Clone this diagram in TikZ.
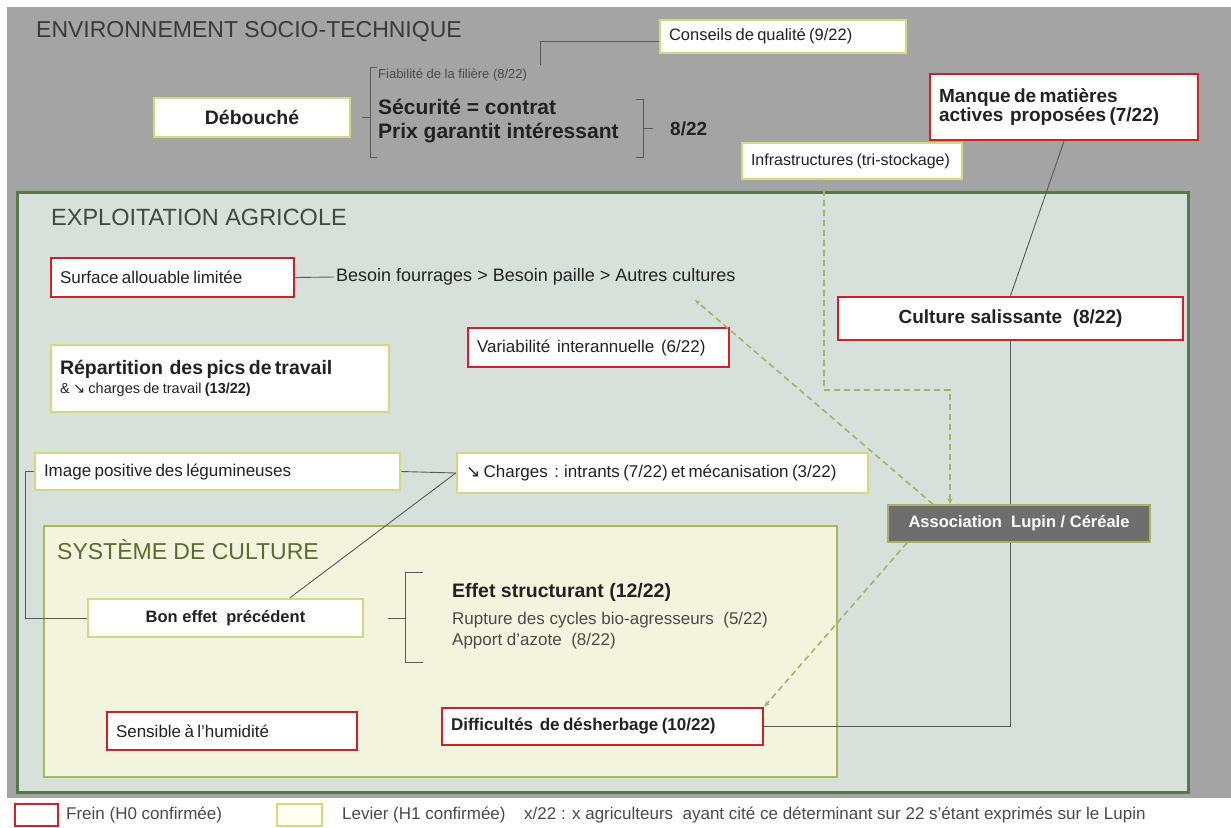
\documentclass[tikz,border=0pt]{standalone}
\usepackage{fontspec}
\setmainfont{Liberation Sans}
\newfontfamily\arrowfont{DejaVu Sans}
\usetikzlibrary{arrows.meta,calc}
\definecolor{bggray}{HTML}{A4A4A4}
\definecolor{expfill}{HTML}{D8E0DB}
\definecolor{expdraw}{HTML}{56784A}
\definecolor{sysfill}{HTML}{F3F4DE}
\definecolor{sysdraw}{HTML}{A9B85C}
\definecolor{levdraw}{HTML}{CFDB7E}
\definecolor{freinred}{HTML}{D0202C}
\definecolor{assocfill}{HTML}{6E6E6E}
\definecolor{dashgr}{HTML}{A3B468}
\definecolor{txt}{HTML}{222222}
\definecolor{txtl}{HTML}{4A4A4A}
\definecolor{titlegray}{HTML}{3A3A3A}
\definecolor{titleexp}{HTML}{3B4A42}
\definecolor{titlesys}{HTML}{5C6A2C}
\newcommand\fsz[2]{\fontsize{#1}{#2}\selectfont}
\newcommand\dnarrow{{\arrowfont\char"2198}}
\tikzset{
  boxbase/.style={line width=2.5pt, fill=white, inner xsep=9pt, inner ysep=0pt, text=txt, align=left},
  frein/.style={boxbase, draw=freinred},
  levier/.style={boxbase, draw=levdraw},
  conn/.style={draw=black!65, line width=0.9pt},
  dconn/.style={draw=dashgr, line width=1.6pt, dash pattern=on 6pt off 4pt},
  dtip/.style={-{Stealth[length=6pt,width=5pt]}},
  plaintext/.style={inner sep=2pt, text=txt, anchor=west},
  title/.style={inner sep=0pt, anchor=west}
}
\begin{document}
\begin{tikzpicture}[x=1pt,y=-1pt]
\useasboundingbox (0,0) rectangle (1231,827);
\fill[white] (0,0) rectangle (1231,827);
% zones
\fill[bggray] (7,7) rectangle (1231,798);
\draw[fill=expfill, draw=expdraw, line width=3pt] (17,192) rectangle (1188,792);
\draw[fill=sysfill, draw=sysdraw, line width=2pt] (44,526) rectangle (837,777);

% titles
\node[title, text=titlegray] (tenv) at (36,32) {\fsz{23}{27}ENVIRONNEMENT SOCIO-TECHNIQUE};
\node[title, text=titleexp] (texp) at (51,217) {\fsz{23.5}{27}EXPLOITATION AGRICOLE};
\node[title, text=titlesys] (tsys) at (57,550) {\fsz{23}{27}SYSTÈME DE CULTURE};

% socio-technique
\node[levier, minimum width=196pt, minimum height=39pt, align=center] (debouche) at (252,117.5) {\fsz{19.5}{23}\bfseries Débouché};
\draw[conn] (377,67) -- (370,67) -- (370,157) -- (377,157);
\draw[conn] (362,117) -- (370,117);
\node[plaintext, text=txtl] (fiab) at (376,75) {\fsz{13}{16}Fiabilité de la filière (8/22)};
\node[plaintext] (secu) at (376,107) {\fsz{21}{25}\bfseries Sécurité = contrat};
\node[plaintext] (prix) at (376,133) {\fsz{21}{25}\bfseries Prix garantit intéressant};
\draw[conn] (636,99) -- (643,99) -- (643,157) -- (636,157);
\draw[conn] (643,128) -- (653,128);
\node[plaintext] (huit) at (668,129) {\fsz{19}{23}\bfseries 8/22};
\node[levier, minimum width=246pt, minimum height=33pt, text width=228pt] (conseils) at (783,36.5) {\fsz{16.5}{20}Conseils de qualité (9/22)};
\coordinate (fia) at (540,65);
\draw[conn] (fia) |- ([yshift=-5pt]conseils.west);
\node[frein, minimum width=268pt, minimum height=66pt, text width=250pt] (manque) at (1064,107) {\fsz{19}{25}\bfseries Manque de matières\\actives\ \ proposées (7/22)};
\node[levier, minimum width=220pt, minimum height=36pt, text width=202pt] (infra) at (852,161) {\fsz{16}{19}Infrastructures (tri-stockage)};

% exploitation
\node[frein, minimum width=243pt, minimum height=39pt, text width=225pt] (surface) at (172.5,277.5) {\fsz{17}{20}Surface allouable limitée};
\node[plaintext] (besoin) at (334,277) {\fsz{18}{21}Besoin fourrages > Besoin paille > Autres cultures};
\draw[conn] (surface.east) -- (besoin.west);
\node[frein, minimum width=261pt, minimum height=39pt, text width=243pt] (variab) at (598.5,347.5) {\fsz{17}{20}Variabilité\ \ interannuelle\ \ (6/22)};
\node[frein, minimum width=345pt, minimum height=43pt, align=center] (culture) at (1010.5,318.5) {\fsz{19}{23}\bfseries Culture salissante\ \ (8/22)};
\node[levier, minimum width=338pt, minimum height=67pt, text width=320pt] (repart) at (220,378.5) {\fsz{19.5}{24}\bfseries Répartition\ \ des pics de travail\\[3pt]\fsz{14.5}{17}\mdseries \&\ \dnarrow\ charges de travail \textbf{(13/22)}};
\node[levier, minimum width=365pt, minimum height=37pt, text width=347pt] (image) at (217.5,471.5) {\fsz{17}{20}Image positive des légumineuses};
\node[levier, minimum width=411pt, minimum height=40pt, text width=393pt] (charges) at (662.5,473) {\fsz{17}{20}\dnarrow\ Charges\ \ : intrants (7/22) et mécanisation (3/22)};

% systeme de culture
\node[levier, minimum width=275pt, minimum height=38pt, align=center] (bon) at (225.5,618) {\fsz{16.5}{20}\bfseries Bon effet\ \ précédent};
\draw[conn] (423,572) -- (405,572) -- (405,662) -- (423,662);
\draw[conn] (388,618) -- (405,618);
\node[plaintext] (effet) at (450,592) {\fsz{19.5}{23}\bfseries Effet structurant (12/22)};
\node[plaintext, text=txtl] (rupture) at (450,620) {\fsz{17}{20}Rupture des cycles bio-agresseurs\ \ (5/22)};
\node[plaintext, text=txtl] (apport) at (450,641) {\fsz{17}{20}Apport d'azote\ \ (8/22)};
\node[frein, minimum width=250pt, minimum height=38pt, text width=232pt] (sensible) at (232,731) {\fsz{17}{20}Sensible à l'humidité};
\node[frein, minimum width=321pt, minimum height=37pt, text width=303pt] (diff) at (602.5,726.5) {\fsz{17}{20}\bfseries Difficultés\ \ de désherbage (10/22)};

% solid connectors
\draw[conn] (manque.south) -- (culture.north);
\draw[conn] (culture.south) |- (diff.east);
\draw[conn] (image.east) -- (charges.west);
\draw[conn] ([xshift=64.5pt]bon.north) -- (charges.west);
\draw[conn] (image.west) -- ++(-8,0) |- (bon.west);

% association
\node[draw=dashgr, line width=1.5pt, fill=assocfill, text=white, minimum width=262pt, minimum height=37pt, inner sep=0pt] (assoc) at (1019,523.5) {\fsz{16.5}{20}\bfseries Association\ \ Lupin / Céréale};

% dashed connectors
\coordinate (ibend) at (824,390);
\coordinate (btip) at (695,300);
\draw[dconn, dtip] (infra.south -| ibend) -- (ibend) -| ([xshift=-69pt]assoc.north);
\draw[dconn, dtip] ([xshift=-86pt]assoc.north) -- (btip);
\draw[dconn, dtip] ([xshift=-112pt]assoc.south) -- (diff.north east);

% legend
\node[draw=freinred, line width=2pt, fill=white, minimum width=43pt, minimum height=22pt, inner sep=0pt] (legf) at (36.5,815) {};
\node[plaintext, text=txtl] (legft) at (64,815) {\fsz{17}{20}Frein (H0 confirmée)};
\node[draw=levdraw, line width=2pt, fill=yellow!6, minimum width=45pt, minimum height=22pt, inner sep=0pt] (legl) at (299.5,815) {};
\node[plaintext, text=txtl] (leglt) at (340,815) {\fsz{17}{20}Levier (H1 confirmée)};
\node[plaintext, text=txtl] (legx) at (522,815) {\fsz{17}{20}x/22 : x agriculteurs\ \ ayant cité ce déterminant sur 22 s'étant exprimés sur le Lupin};
\end{tikzpicture}
\end{document}
